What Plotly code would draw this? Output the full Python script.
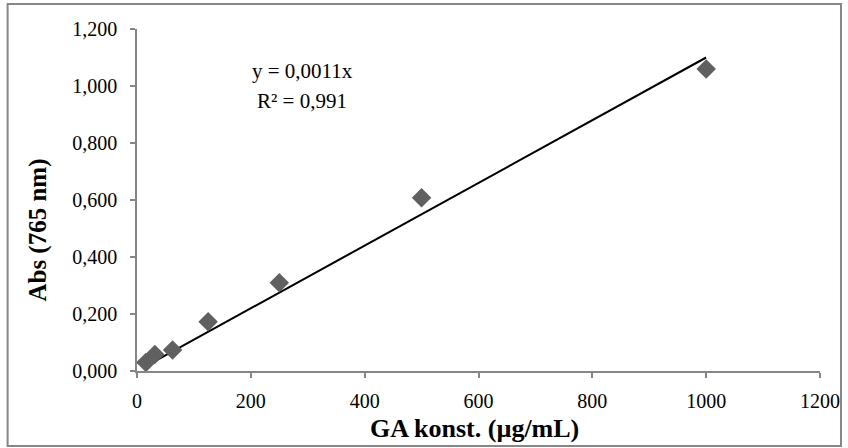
import plotly.graph_objects as go

conc = [15.625, 31.25, 62.5, 125, 250, 500, 1000]
absorb = [0.030, 0.058, 0.074, 0.173, 0.310, 0.608, 1.060]
slope = 0.0011
eq_text = "y = 0,0011x"
r2_text = "R² = 0,991"
x_title = "GA konst. (µg/mL)"
y_title = "Abs (765 nm)"

trend_x = [min(conc), max(conc)]
trend_y = [slope * v for v in trend_x]

FONT = "Liberation Serif, Times New Roman, serif"
AX = "#868686"

fig = go.Figure()
fig.add_trace(go.Scatter(x=trend_x, y=trend_y, mode="lines",
                         line=dict(color="black", width=2), showlegend=False))
fig.add_trace(go.Scatter(x=conc, y=absorb, mode="markers",
                         marker=dict(symbol="diamond", size=15, color="#606060",
                                     line=dict(width=0)),
                         showlegend=False))

W, H = 848, 448
L, R, T, B = 136.5, 28, 29, 77
fig.update_layout(
    width=W, height=H,
    margin=dict(l=L, r=R, t=T, b=B, autoexpand=False),
    paper_bgcolor="white", plot_bgcolor="white",
    separators=",.",
    font=dict(family=FONT, size=20, color="black"),
    xaxis=dict(range=[0, 1200], tickvals=[0, 200, 400, 600, 800, 1000, 1200],
               tickformat="d", showgrid=False, zeroline=False, automargin=False,
               showline=True, linecolor=AX, linewidth=1.5,
               ticks="outside", ticklen=5, tickcolor=AX, tickwidth=1.5,
               ticklabelstandoff=6,
               tickfont=dict(family=FONT, size=20, color="black")),
    yaxis=dict(range=[0, 1.2], tickvals=[0, 0.2, 0.4, 0.6, 0.8, 1.0, 1.2],
               tickformat=".3f", showgrid=False, zeroline=False, automargin=False,
               showline=True, linecolor=AX, linewidth=1.5,
               ticks="outside", ticklen=5, tickcolor=AX, tickwidth=1.5,
               ticklabelstandoff=9,
               tickfont=dict(family=FONT, size=20, color="black")),
    shapes=[dict(type="rect", xref="paper", yref="paper",
                 x0=(7 - L) / (W - L - R), x1=(841 - L) / (W - L - R),
                 y0=(H - B - 446) / (H - T - B), y1=(H - B - 4) / (H - T - B),
                 line=dict(color="#878787", width=2), fillcolor="rgba(0,0,0,0)",
                 layer="below")],
)

pw, ph = W - L - R, H - T - B
def px(x):
    return (x - L) / pw
def py(y):
    return (H - B - y) / ph

fig.add_annotation(x=px(302), y=py(71), xref="paper", yref="paper", text=eq_text,
                   showarrow=False, font=dict(family=FONT, size=21), xanchor="center", yanchor="middle")
fig.add_annotation(x=px(302), y=py(101), xref="paper", yref="paper", text=r2_text,
                   showarrow=False, font=dict(family=FONT, size=21), xanchor="center", yanchor="middle")
fig.add_annotation(x=px(474), y=py(428), xref="paper", yref="paper", text="<b>" + x_title + "</b>",
                   showarrow=False, font=dict(family=FONT, size=26), xanchor="center", yanchor="middle")
fig.add_annotation(x=px(37), y=py(230), xref="paper", yref="paper", text="<b>" + y_title + "</b>",
                   showarrow=False, textangle=-90, font=dict(family=FONT, size=25),
                   xanchor="center", yanchor="middle")

fig.write_html("out.html")
